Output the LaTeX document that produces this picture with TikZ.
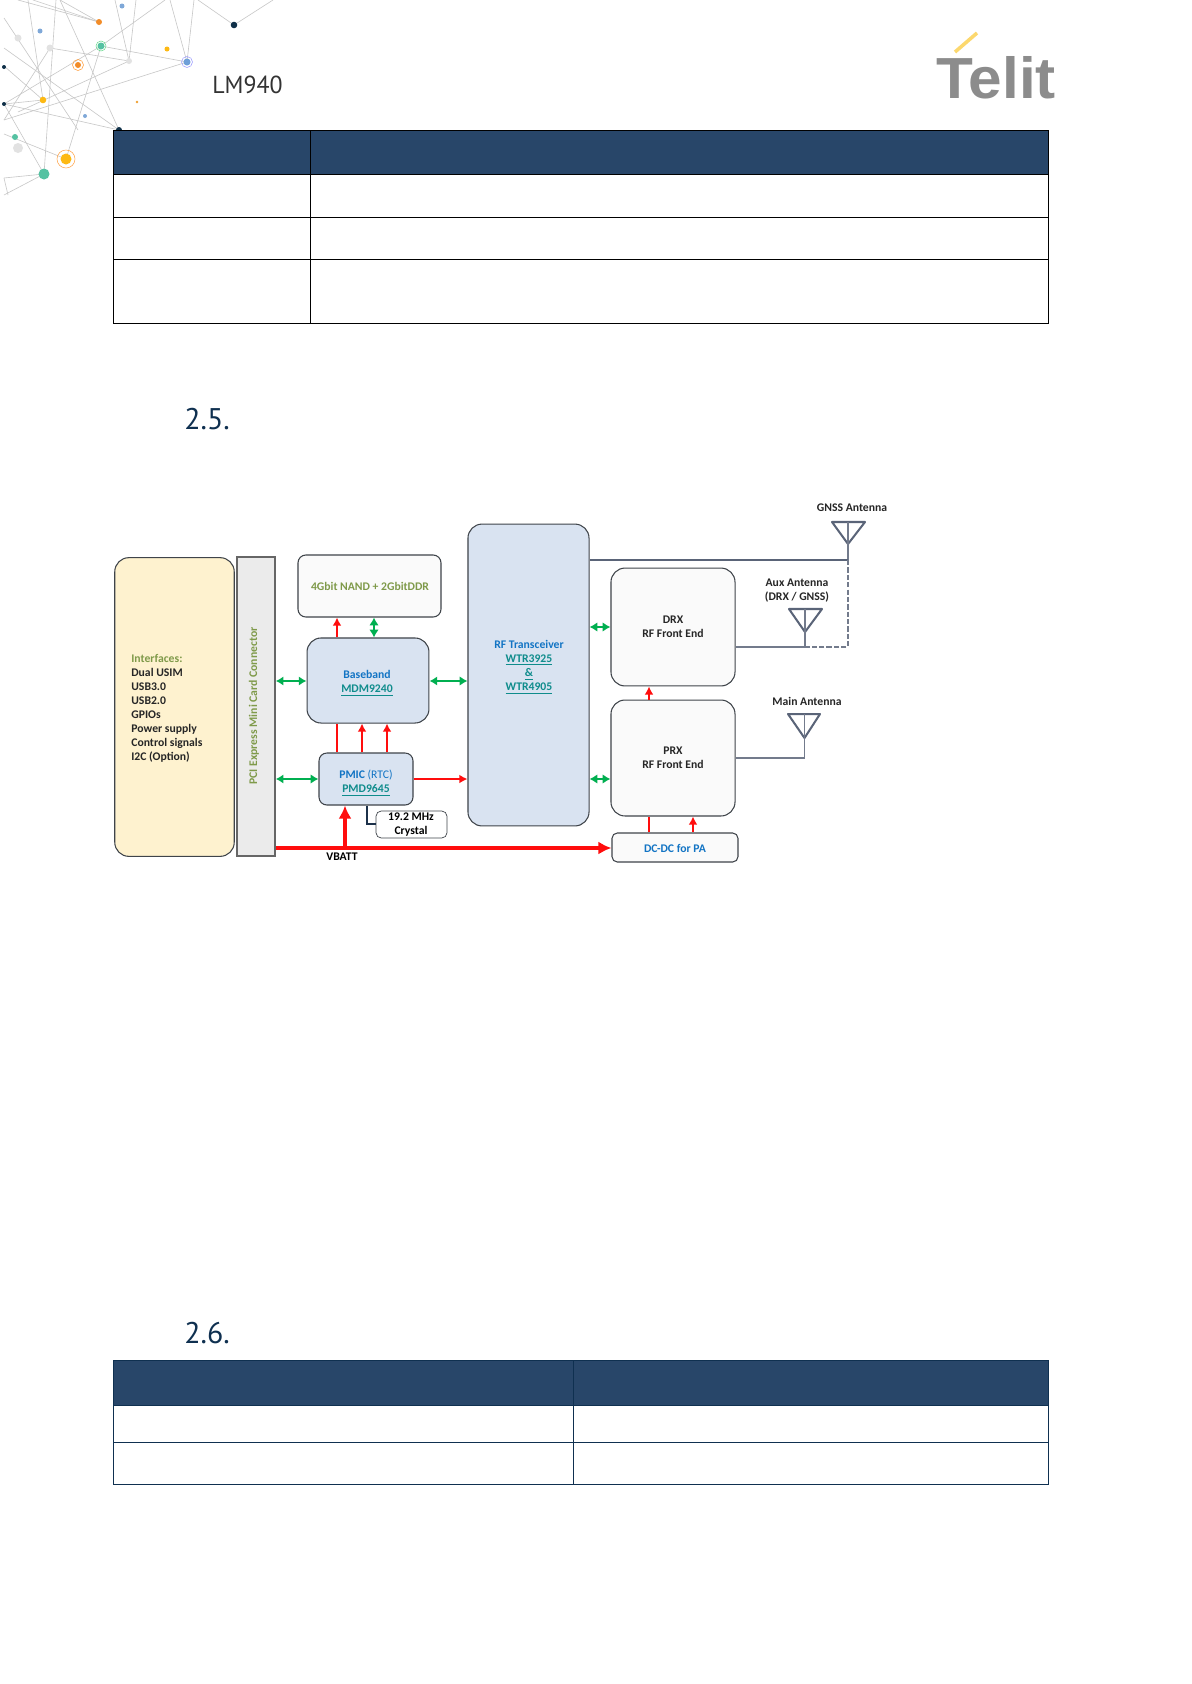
\documentclass[tikz,border=0pt]{standalone}
\usepackage{fontspec}
\usepackage{tikz}
\usetikzlibrary{arrows.meta}
\setmainfont{Carlito}
\newfontfamily\headfont{PT Sans}
\newfontfamily\logofont{Liberation Sans}
\definecolor{headblue}{HTML}{284669}
\definecolor{titlenavy}{HTML}{0F3050}
\definecolor{boxline}{HTML}{3F444A}
\definecolor{antline}{HTML}{5A6478}
\definecolor{sigred}{HTML}{FF0D0D}
\definecolor{siggreen}{HTML}{00AF50}
\definecolor{txtblue}{HTML}{1274C4}
\definecolor{txtteal}{HTML}{0F8C8C}
\definecolor{txtolive}{HTML}{7F9A4A}
\definecolor{netgray}{HTML}{C8C8C8}
\definecolor{ifacefill}{HTML}{FEF2CF}
\definecolor{chipfill}{HTML}{D9E3F1}
\tikzset{
    block/.style={draw=boxline, line width=0.6pt, inner sep=0pt, text centered},
    softbox/.style={block, fill=#1, rounded corners=8pt},
    softbox/.default={white},
    lbl/.style={inner sep=0pt, align=center, font=\fontsize{6.65}{8}\selectfont\bfseries},
    redarrow/.style={draw=sigred, line width=0.9pt, -{Latex[length=4.6pt,width=5pt]}},
    redline/.style={draw=sigred, line width=0.9pt},
    greenarrow/.style={draw=siggreen, line width=1pt, {Latex[length=4.4pt,width=5.4pt]}-{Latex[length=4.4pt,width=5.4pt]}},
    vbatt/.style={draw=sigred, line width=2.4pt},
    antenna/.style={draw=antline, line width=1.15pt, line join=round},
    antfeed/.style={draw=antline!85, line width=0.65pt},
    netline/.style={draw=netgray, line width=0.35pt},
    tablerule/.style={draw=black, line width=0.45pt},
}
\begin{document}
\begin{tikzpicture}[x=0.02cm, y=-0.02cm]
    \useasboundingbox (0,0) rectangle (1191,1684);
    \fill[white] (0,0) rectangle (1191,1684);

    % network in the page corner
    \foreach \xa/\ya/\xb/\yb in {
        234/25/198/0, 234/25/273/0, 187/62/170/0, 187/62/194/0, 187/62/101/46, 187/62/4/120,
        101/46/165/0, 101/46/4/104, 101/46/66/159, 99/22/33/0, 99/22/60/0, 99/22/18/0,
        119/130/4/104, 119/130/60/0, 119/130/4/48, 129/61/50/48, 129/61/18/112, 129/61/115/0,
        129/61/136/0, 43/100/28/0, 43/100/4/66, 43/100/4/104, 44/174/56/0, 44/174/4/104,
        44/174/4/195, 66/159/4/134, 44/174/4/178, 4/18/78/130, 8/195/4/178, 50/48/4/120}
        \draw[netline] (\xa,\ya) -- (\xb,\yb);
    \foreach \cx/\cy/\cr/\cc in {
        99/22/3/F28C28, 122/6/2.5/7FA8D8, 40/31/2.5/7FA8D8, 18/38/3.5/E2E2E2, 50/48/3.5/E2E2E2,
        101/46/3.5/55C2A2, 78/65/3/F28C28, 129/61/3/E2E2E2, 167/49/2.5/FDB913, 187/62/3.5/6F9FD8,
        234/25/3.3/0F3048, 4/67/2/0F3048, 4/104/2/0F3048, 43/100/3.3/FDB913, 137/102/1.3/F0A030,
        85/116/2/7FA8D8, 119/130/3/0F3048, 15/137/3/55C2A2, 18/148/5/E2E2E2, 66/159/5.5/FDB913,
        44/174/5.5/55C2A2}
    {
        \definecolor{dotc}{HTML}{\cc}
        \fill[dotc] (\cx,\cy) circle[radius=\cr];
    }
    \draw[green!50!teal!60, line width=0.3pt] (101,46) circle[radius=5];
    \draw[orange!80, line width=0.3pt] (78,65) circle[radius=5.5];
    \draw[blue!40, line width=0.3pt] (187,62) circle[radius=5.5];
    \draw[orange!70, line width=0.3pt] (66,159) circle[radius=9];

    % page head
    \node[anchor=west, inner sep=0pt, xscale=0.97, text=black!80, font=\fontsize{14}{14}\selectfont\headfont] (modelname) at (212,85) {LM940};
    \draw[yellow!50!orange!55, line width=2pt] (955,52) -- (977,33);
    \node[anchor=west, inner sep=0pt, xscale=1.04, text=black!45, font=\fontsize{33}{33}\selectfont\logofont\bfseries] (logo) at (936,78) {Telit};
    \node[anchor=west, inner sep=0pt, text=titlenavy, font=\fontsize{17}{17}\selectfont\headfont] (sec25) at (184,419) {2.5.};
    \node[anchor=west, inner sep=0pt, text=titlenavy, font=\fontsize{17}{17}\selectfont\headfont] (sec26) at (184,1333) {2.6.};

    % tables
    \fill[headblue] (113,130) rectangle (1048,174);
    \draw[tablerule] (113,130) rectangle (1048,323);
    \draw[tablerule] (310,130) -- (310,323);
    \foreach \rowy in {174,217,259}
        \draw[tablerule] (113,\rowy) -- (1048,\rowy);

    \fill[headblue] (113,1360) rectangle (1048,1405);
    \draw[tablerule, draw=titlenavy] (113,1360) rectangle (1048,1484);
    \draw[tablerule, draw=titlenavy, line width=0.25pt] (573,1360) -- (573,1484);
    \foreach \rowy in {1405,1442}
        \draw[tablerule, draw=titlenavy] (113,\rowy) -- (1048,\rowy);

    % blocks
    \node[softbox=ifacefill, minimum width=68pt, minimum height=170pt] (iface) at (174.5,707) {};
    \node[block, fill=black!8, draw=black!60, line width=0.9pt, minimum width=21.6pt, minimum height=170pt] (pcie) at (256,706.5) {};
    \node[softbox=black!2, rounded corners=4.5pt, minimum width=81.4pt, minimum height=35.3pt] (nand) at (369.5,586) {};
    \node[softbox=chipfill, minimum width=69.4pt, minimum height=48.4pt] (bb) at (368,680.5) {};
    \node[softbox=chipfill, rounded corners=4.5pt, minimum width=53.5pt, minimum height=29.6pt] (pmic) at (366,779) {};
    \node[softbox=white, rounded corners=3pt, line width=0.4pt, minimum width=40.4pt, minimum height=15.4pt] (xtal) at (411.5,824.5) {};
    \node[softbox=chipfill, minimum width=68.9pt, minimum height=171.8pt] (rf) at (528.5,675) {};
    \node[softbox=black!2, minimum width=70.6pt, minimum height=67.1pt] (drx) at (673,627) {};
    \node[softbox=black!2, minimum width=70.6pt, minimum height=66pt] (prx) at (673,758) {};
    \node[softbox=black!2, rounded corners=3pt, minimum width=71.7pt, minimum height=16.5pt] (dcdc) at (675,847.5) {};

    % block texts
    \node[lbl, anchor=north west, align=left, text=black!85] (ifacetxt) at (131,654) {{\color{txtolive}Interfaces:}\\Dual USIM\\USB3.0\\USB2.0\\GPIOs\\Power supply\\Control signals\\I2C (Option)};
    \node[lbl, text=txtolive, rotate=90] (pcietxt) at (254,706) {PCI Express Mini Card Connector};
    \node[lbl, text=txtolive] (nandtxt) at (370,586) {4Gbit NAND + 2GbitDDR};
    \node[lbl, text=txtblue] (bbtxt) at (367,683) {Baseband\\{\color{txtteal}\underline{MDM9240}}};
    \node[lbl, text=txtblue] (pmictxt) at (366,783) {PMIC {\mdseries(RTC)}\\{\color{txtteal}\underline{PMD9645}}};
    \node[lbl, text=black] (xtaltxt) at (411,825) {19.2 MHz\\Crystal};
    \node[lbl, text=txtblue] (rftxt) at (529,667) {RF Transceiver\\{\color{txtteal}\underline{WTR3925}}\\{\color{txtteal}\underline{\&}}\\{\color{txtteal}\underline{WTR4905}}};
    \node[lbl, text=black!85] (drxtxt) at (673,627) {DRX\\RF Front End};
    \node[lbl, text=black!85] (prxtxt) at (673,758) {PRX\\RF Front End};
    \node[lbl, text=txtblue] (dcdctxt) at (675,848) {DC-DC for PA};
    \node[lbl, text=black] (vbattxt) at (342,857) {VBATT};
    \node[lbl, text=black!85] (gnsstxt) at (852,508) {GNSS Antenna};
    \node[lbl, text=black!85] (auxtxt) at (797,591) {Aux Antenna\\(DRX / GNSS)};
    \node[lbl, text=black!85] (maintxt) at (807,701) {Main Antenna};

    % connector columns and rows
    \coordinate (colA) at (337,0);
    \coordinate (colB) at (374,0);
    \coordinate (colC) at (362,0);
    \coordinate (colD) at (387,0);
    \coordinate (colE) at (345,0);
    \coordinate (colF) at (367,0);
    \coordinate (colG) at (649,0);
    \coordinate (colH) at (693,0);
    \coordinate (rowA) at (0,681);
    \coordinate (rowB) at (0,779);
    \coordinate (rowC) at (0,627);
    \coordinate (rowD) at (0,848);
    \coordinate (rowE) at (0,824);

    \draw[redarrow] (colA |- bb.north) -- (colA |- nand.south);
    \draw[greenarrow] (colB |- nand.south) -- (colB |- bb.north);
    \draw[greenarrow] (pcie.east |- rowA) -- (bb.west |- rowA);
    \draw[greenarrow] (bb.east |- rowA) -- (rf.west |- rowA);
    \draw[greenarrow] (pcie.east |- rowB) -- (pmic.west |- rowB);
    \draw[redarrow] (pmic.east |- rowB) -- (rf.west |- rowB);
    \draw[redline] (colA |- pmic.north) -- (colA |- bb.south);
    \draw[redarrow] (colC |- pmic.north) -- (colC |- bb.south);
    \draw[redarrow] (colD |- pmic.north) -- (colD |- bb.south);
    \draw[draw=headblue!70!black, line width=1.2pt] (colF |- pmic.south) -- (colF |- rowE) -- (xtal.west |- rowE);
    \draw[vbatt, -{Latex[length=7.5pt,width=7.5pt]}] (pcie.east |- rowD) -- (dcdc.west |- rowD);
    \draw[vbatt, -{Latex[length=7.5pt,width=7.5pt]}] (colE |- rowD) -- (colE |- pmic.south);
    \draw[greenarrow] (rf.east |- rowC) -- (drx.west |- rowC);
    \draw[greenarrow] (rf.east |- rowB) -- (prx.west |- rowB);
    \draw[redarrow] (colG |- prx.north) -- (colG |- drx.south);
    \draw[redline] (colG |- dcdc.north) -- (colG |- prx.south);
    \draw[redarrow] (colH |- dcdc.north) -- (colH |- prx.south);

    % antennas
    \coordinate (gnsstip) at (848,544);
    \coordinate (gnssfeed) at (848,560);
    \coordinate (auxtip) at (805,632);
    \coordinate (auxfeed) at (805,647);
    \coordinate (dashcorner) at (848,647);
    \coordinate (maintip) at (804.5,738);
    \coordinate (mainfeed) at (804.5,758);

    \draw[antenna] (832,522) -- (865,522) -- (gnsstip) -- cycle;
    \draw[antfeed] (848,522) -- (gnssfeed);
    \draw[antenna] (789,609) -- (822,609) -- (auxtip) -- cycle;
    \draw[antfeed] (805,609) -- (auxfeed);
    \draw[antenna] (788,714) -- (820,714) -- (maintip) -- cycle;
    \draw[antfeed] (804.5,714) -- (mainfeed);

    \draw[antenna] (rf.east |- gnssfeed) -- (gnssfeed);
    \draw[antfeed, dash pattern=on 3pt off 1.2pt] (gnssfeed) -- (dashcorner) -- (auxfeed);
    \draw[antfeed] (drx.east |- auxfeed) -- (auxfeed);
    \draw[antfeed] (prx.east |- mainfeed) -- (mainfeed);
\end{tikzpicture}
\end{document}
